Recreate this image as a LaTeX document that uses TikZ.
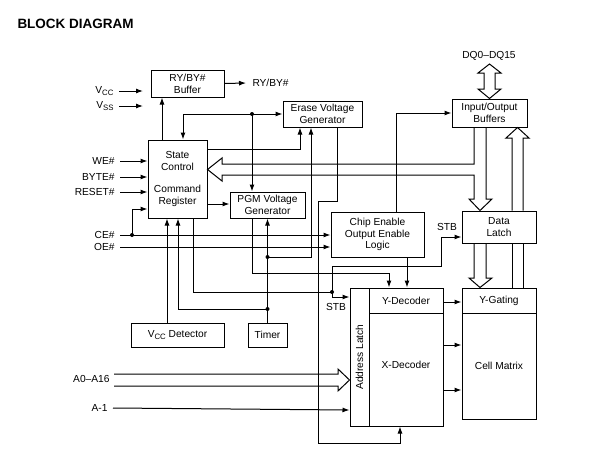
\documentclass[tikz,border=0pt]{standalone}
\usepackage{fontspec}
\setmainfont{Liberation Sans}
\usetikzlibrary{arrows.meta,calc,positioning}
\newcommand\lowsub[1]{\raisebox{-0.35ex}{\fontsize{7.8}{8}\selectfont #1}}

\begin{document}
\begin{tikzpicture}[x=1pt,y=-1pt,line width=1pt,>={Latex[length=7pt,width=5pt]},
  font=\fontsize{10.2}{11.8}\selectfont,
  blk/.style 2 args={draw,minimum width=#1,minimum height=#2,inner sep=0pt,align=center},
  lbl/.style={inner sep=1pt}]
\useasboundingbox (0,0) rectangle (589,463);
\node[anchor=west,inner sep=0pt,font=\fontsize{13.5}{14}\selectfont\bfseries] (title) at (17,23.5) {BLOCK DIAGRAM};

% blocks
\node[blk={73pt}{27pt}] (rb) at (187.5,83.5) {RY/BY\#\\Buffer};
\node[blk={79pt}{26pt}] (ev) at (322.5,114) {Erase Voltage\\Generator};
\node[blk={59pt}{78pt}] (sc) at (177.5,179) {State\\Control\\[11pt]Command\\Register};
\node[blk={75pt}{26pt}] (pgm) at (267.5,205) {PGM Voltage\\Generator};
\node[blk={93pt}{45pt}] (cel) at (377.5,234.5) {Chip Enable\\Output Enable\\Logic};
\node[blk={75pt}{28pt}] (io) at (489.5,113) {Input/Output\\Buffers};
\node[blk={74pt}{32pt}] (dl) at (499,227) {Data\\Latch};
\node[blk={74pt}{25pt}] (yg) at (499,300.5) {Y-Gating};
\node[blk={74pt}{106pt}] (cm) at (499,366) {Cell Matrix};
\node[blk={19pt}{138pt}] (al) at (359.5,357) {};
\node[rotate=90] (altxt) at (al) {Address Latch};
\node[blk={74pt}{25pt}] (yd) at (406,300.5) {Y-Decoder};
\node[blk={74pt}{113pt}] (xd) at (406,369.5) {};
\node (xdtxt) at (406,365) {X-Decoder};
\node[blk={93pt}{24pt}] (vd) at (177.5,335) {V\lowsub{CC} Detector};
\node[blk={39pt}{24pt}] (tm) at (267.5,335) {Timer};

% pins and labels
\node[lbl,anchor=east] (vcc) at (115,91) {V\lowsub{CC}};
\node[lbl,anchor=east] (vss) at (115,106) {V\lowsub{SS}};
\node[lbl,anchor=west] (ryo) at (251,83) {RY/BY\#};
\node[lbl] (dq) at (489,56) {DQ0--DQ15};
\node[lbl,anchor=east] (cein) at (116,235) {CE\#};
\node[lbl,anchor=east] (oein) at (116,247) {OE\#};
\node[lbl,anchor=east] (a0) at (111,379) {A0--A16};
\node[lbl,anchor=east] (a1) at (109,408) {A-1};
\node[lbl] (stba) at (447,227) {STB};
\node[lbl] (stbb) at (336,307) {STB};

\draw[->] ([xshift=4pt]vcc.east) -- ++(24,0);
\draw[->] ([xshift=4pt]vss.east) -- ++(24,0);
\draw[->] (rb.east) -- ([xshift=-5pt]ryo.west);
\foreach \lab/\yy in {WE\#/161,BYTE\#/177,RESET\#/192}{
  \node[lbl,anchor=east] (in\yy) at (116,\yy) {\lab};
  \draw[->] ([xshift=4pt]in\yy.east) -- (sc.west |- in\yy);
}
\draw[->] ([xshift=4pt]cein.east) -- (cel.west |- cein);
\draw[->] ([xshift=4pt]oein.east) -- (cel.west |- oein);
\coordinate (j5) at (132,235);
\draw[->] (j5) |- (sc.west |- 0,209);

% state control links
\draw[->] (sc.north -| 162,0) -- (rb.south -| 162,0);
\draw[<->] (sc.north -| 183,0) |- (ev.west);
\coordinate (j1) at (ev.west -| 252,0);
\draw[->] (j1) -- (pgm.north -| j1);
\draw[->] (sc.east |- 0,149) -| (ev.south -| 300,0);
\draw[->] (sc.east |- 0,204) -- (pgm.west |- 0,204);
\draw[->] (vd.north -| 167,0) -- (sc.south -| 167,0);
\draw[->] (tm.north) -- (pgm.south);
\coordinate (j2) at (tm.north |- 0,257);
\coordinate (j3) at (tm.north |- 0,309);
\draw[->] (j2) -| (ev.south -| 311,0);
\draw[->] (j3) -| (sc.south -| 178,0);
\coordinate (j4) at (332,292);
\draw (sc.south -| 193,0) |- (j4);
\draw[->] (j4) |- (al.west |- 0,297);
\draw[->] (j4) -- (332,266) -| (441,237) -- (dl.west |- 0,237);
\draw[->] (pgm.south -| 252,0) -- (252,273) -| (yd.north -| 389,0);
\draw[->] (cel.south -| 407,0) -- (yd.north -| 407,0);
\draw[->] (ev.south -| 337,0) |- (318,201) |- (400,443) -- (xd.south -| 400,0);
\draw[->] (cel.north -| 396,0) |- (io.west);
\foreach \j in {j1,j2,j3,j4,j5} \fill (\j) circle (2pt);

% decoders to array
\draw[->] (yd.east |- 0,302) -- (yg.west |- 0,302);
\foreach \yy in {345,390} \draw[->] (xd.east |- 0,\yy) -- (cm.west |- 0,\yy);
\draw[->] ([xshift=4pt]a1.east) -- (al.west |- 0,410);

% buses
\draw (io.south -| 474,0) |- (222,164) -- (222,158) -- (sc.east |- 0,169.5) -- (222,181) -- (222,175)
  -| (474,199) -- (469,199) -- (dl.north -| 480,0) -- (492,199) -- (486,199) -- (io.south -| 486,0);
\draw (dl.north -| 512,0) -- (512,138) -- (506,138) -- (io.south -| 517.5,0) -- (529,138) -- (523,138) -- (dl.north -| 523,0);
\draw (dl.south -| 474,0) -- (474,278) -- (469,278) -- (yg.north -| 480,0) -- (492,278) -- (486,278) -- (dl.south -| 486,0);
\foreach \x in {512,523} \draw (dl.south -| \x,0) -- (yg.north -| \x,0);
\draw (484,89) -- (478,89) -- (io.north -| 489.5,0) -- (501,89) -- (495,89) -- (495,73) -- (501,73)
  -- (489.5,64) -- (478,73) -- (484,73) -- cycle;
\draw ([xshift=3pt]a0.east |- 0,374) -- (338,374) -- (338,369) -- (al.west |- 0,380) -- (338,391) -- (338,386) -- ([xshift=3pt]a0.east |- 0,386);
\end{tikzpicture}
\end{document}
